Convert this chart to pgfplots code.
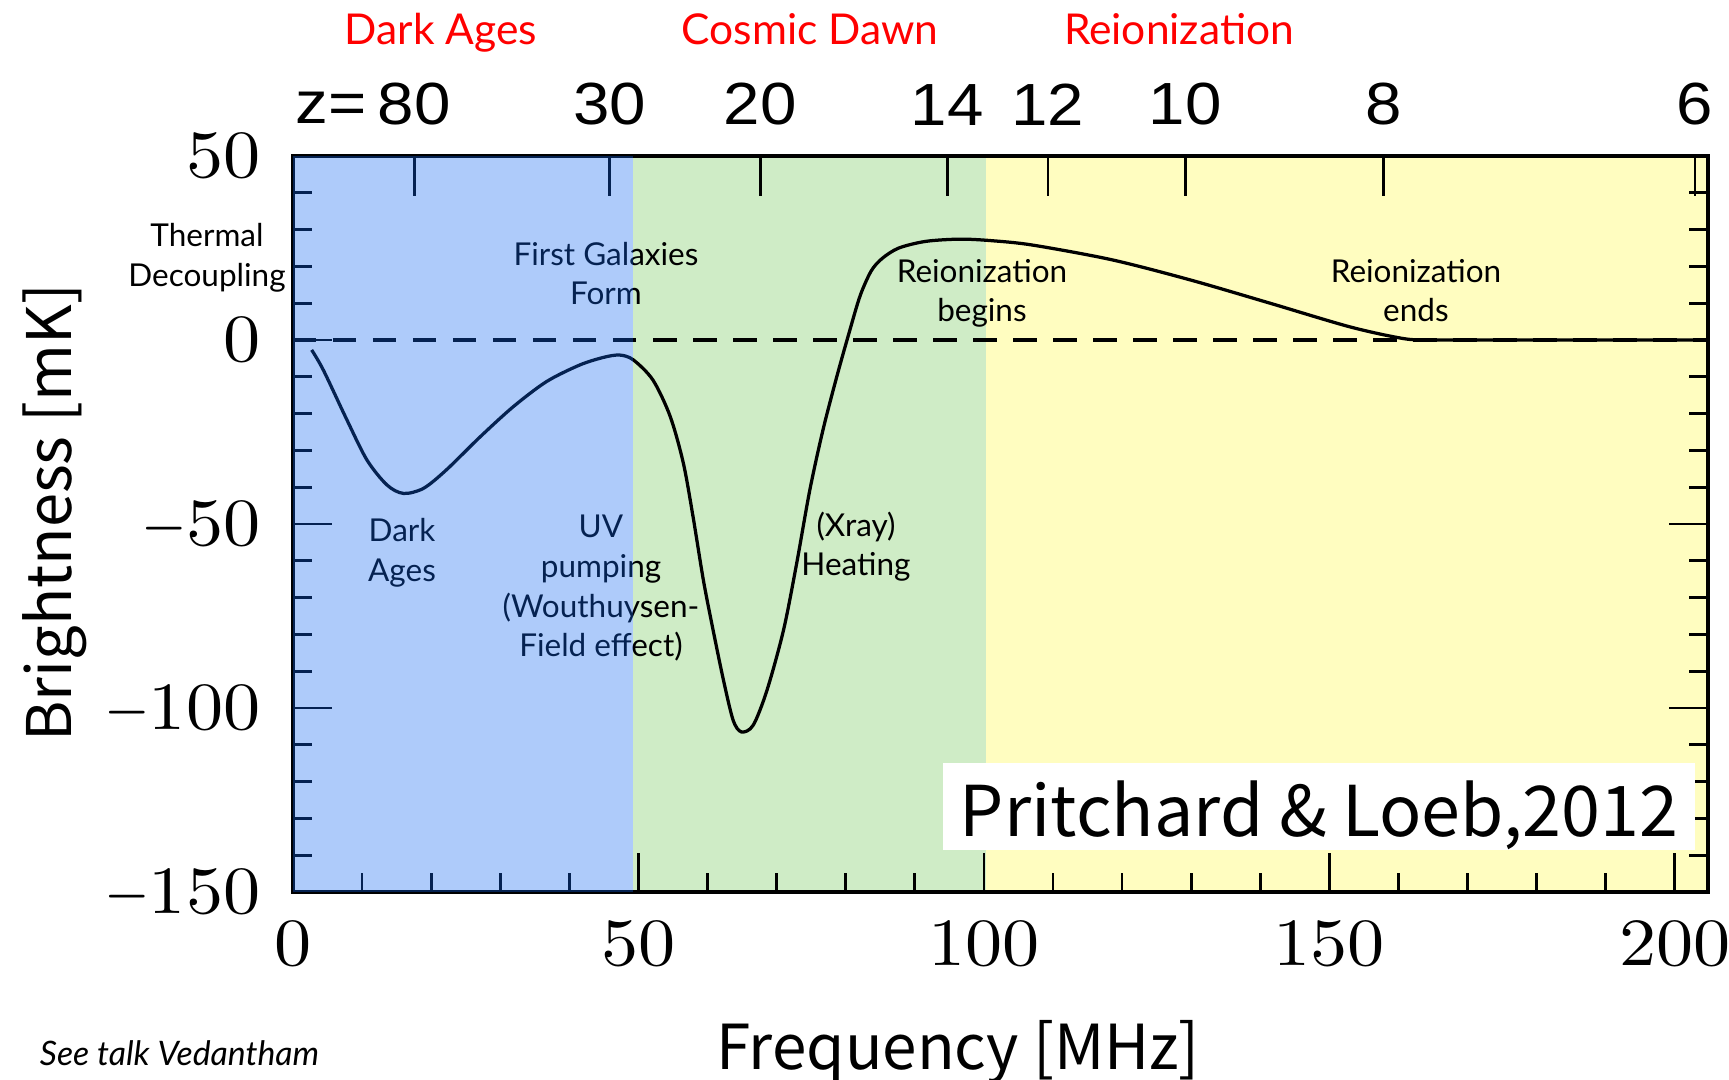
\documentclass[border=0pt]{standalone}
\usepackage{fontspec}
\usepackage{graphicx}
\usepackage{pgfplots}
\pgfplotsset{compat=1.18}
\newfontfamily\lato{Lato}
\newfontfamily\cjk{Noto Sans CJK JP}
\newfontfamily\zfont{Liberation Sans}[FakeStretch=1.1]
\newfontfamily\lmtick{lmroman10-regular.otf}[FakeStretch=1.1]
\definecolor{bandblue}{RGB}{17,102,240}
\definecolor{bandgreen}{RGB}{207,236,198}
\definecolor{bandyellow}{RGB}{255,253,192}
\newcommand\annfont{\lato\fontsize{6.3}{7.5}\selectfont}
\newcommand\ann[3]{\node[anchor=base,inner sep=0,font=\annfont] at (#1,#2) {#3};}
\newcommand\mn{\scalebox{0.72}[1]{−}\kern0.2pt}
\begin{document}
\begin{tikzpicture}
\pgfplotsset{set layers}

\begin{axis}[
  at={(0,0)}, anchor=south west,
  scale only axis, width=283pt, height=147.2pt,
  xmin=0, xmax=204.8, ymin=-150, ymax=50,
  xtick={0,50,...,200}, minor xtick={10,20,...,190},
  ytick={-150,-100,-50,0,50}, yticklabels={\mn150,\mn100,\mn50,0,50},
  minor ytick={-140,-130,...,40},
  xtick pos=left, ytick pos=both,
  tick align=inside,
  major tick length=7.8pt, minor tick length=3.8pt,
  every tick/.style={black, line width=0.55pt},
  axis line style={line width=0.8pt},
  /pgf/number format/assume math mode=true,
  ticklabel style={font=\lmtick\fontsize{13.5}{15}\selectfont},
  xticklabel style={yshift=-2.2pt},
  yticklabel style={xshift=-3pt},
]
\addplot[on layer=axis background, draw=none, fill=bandgreen]
  coordinates {(49.2,-150) (100.3,-150) (100.3,50) (49.2,50)};
\addplot[on layer=axis background, draw=none, fill=bandyellow]
  coordinates {(100.3,-150) (204.8,-150) (204.8,50) (100.3,50)};
\addplot[black, line width=0.8pt, dash pattern=on 4.7pt off 3.3pt]
  coordinates {(0,0) (204.8,0)};
\addplot[black, line width=0.65pt, smooth] coordinates {
 (2.7,-2.7) (4.4,-8.2) (7.8,-21.7) (10.7,-32.6) (13.6,-39.4) (16.0,-41.7)
 (18.9,-40.3) (22.2,-35.3) (27.1,-26.3) (31.9,-18.1) (36.7,-11.3) (41.5,-6.8)
 (45.0,-4.7) (47.3,-4.1) (49.25,-5.4) (52.1,-10.9) (54.6,-20.8) (56.5,-33.5)
 (57.9,-48.0) (59.4,-65.3) (60.8,-78.8) (62.3,-92.4) (63.7,-103.3) (64.9,-106.5)
 (66.6,-104.7) (68.6,-95.2) (71.0,-78.8) (72.9,-60.7) (74.8,-40.8) (76.7,-24.5)
 (78.7,-10.0) (80.6,2.7) (82.1,12.1) (83.7,18.8) (85.3,22.2) (87.7,25.0)
 (91.6,26.8) (96.5,27.4) (101,27.0) (107,25.8)
 (118.5,21.8) (129.9,16.3) (141.4,10.0) (152.9,3.6) (160.5,0.45) (164.4,0)
 (175,0) (190,0) (204.8,0)};
\addplot[on layer=axis foreground, draw=none, fill=bandblue, fill opacity=0.34]
  coordinates {(0,-150) (49.2,-150) (49.2,50) (0,50)};
\end{axis}

\begin{axis}[
  at={(0,0)}, anchor=south west,
  scale only axis, width=283pt, height=147.2pt,
  xmin=0, xmax=204.8, ymin=-150, ymax=50,
  axis x line*=top, hide y axis,
  xtick={17.536,45.820,67.638,94.694,109.262,129.128,157.823,202.915},
  xticklabels={80,30,20,14,12,10,8,6},
  xtick align=inside, major tick length=8pt,
  every tick/.style={black, line width=0.55pt},
  axis line style={line width=0.8pt},
  xticklabel style={font=\zfont\fontsize{11.9}{13}\selectfont, yshift=2.6pt},
]
\end{axis}

\begin{scope}[x=0.2pt,y=-0.2pt,shift={(-293,-892)}]
% red era labels
\node[anchor=base,inner sep=0,text=red,font=\lato\fontsize{8.5}{10}\selectfont] at (441,45) {Dark Ages};
\node[anchor=base,inner sep=0,text=red,font=\lato\fontsize{8.5}{10}\selectfont] at (810,45) {Cosmic Dawn};
\node[anchor=base,inner sep=0,text=red,font=\lato\fontsize{8.5}{10}\selectfont] at (1179,45) {Reionization};
% z=
\node[anchor=base west,inner sep=0,font=\zfont\fontsize{11.9}{13}\selectfont] at (295,124) {z=};
% annotations
\ann{207}{247}{Thermal}
\ann{207}{287}{Decoupling}
\ann{606}{266}{First Galaxies}
\ann{606}{305}{Form}
\ann{402}{542}{Dark}
\ann{402}{582}{Ages}
\ann{601}{538}{UV}
\ann{601}{578}{pumping}
\ann{601}{618}{(Wouthuysen-}
\ann{601}{657}{Field effect)}
\ann{856}{537}{(Xray)}
\ann{856}{576}{Heating}
\ann{982}{283}{Reionization}
\ann{982}{322}{begins}
\ann{1416}{283}{Reionization}
\ann{1416}{322}{ends}
% axis labels
\node[rotate=90,anchor=base,inner sep=0,font=\cjk\fontsize{12.3}{14}\selectfont] at (72,513) {Brightness [mK]};
\node[anchor=base,inner sep=0,font=\cjk\fontsize{12.4}{14}\selectfont] at (958,1070) {Frequency [MHz]};
\node[anchor=base west,inner sep=0,font=\lato\itshape\fontsize{6.75}{8}\selectfont] at (39,1066) {See talk Vedantham};
% credit box
\fill[white] (943,763) rectangle (1695,850);
\node[anchor=base,inner sep=0,font=\cjk\fontsize{14.0}{16}\selectfont] at (1319,837) {Pritchard \& Loeb,2012};
\end{scope}

\pgfresetboundingbox
\useasboundingbox (-58.6pt,-37.6pt) rectangle (287.2pt,178.4pt);
\end{tikzpicture}
\end{document}
